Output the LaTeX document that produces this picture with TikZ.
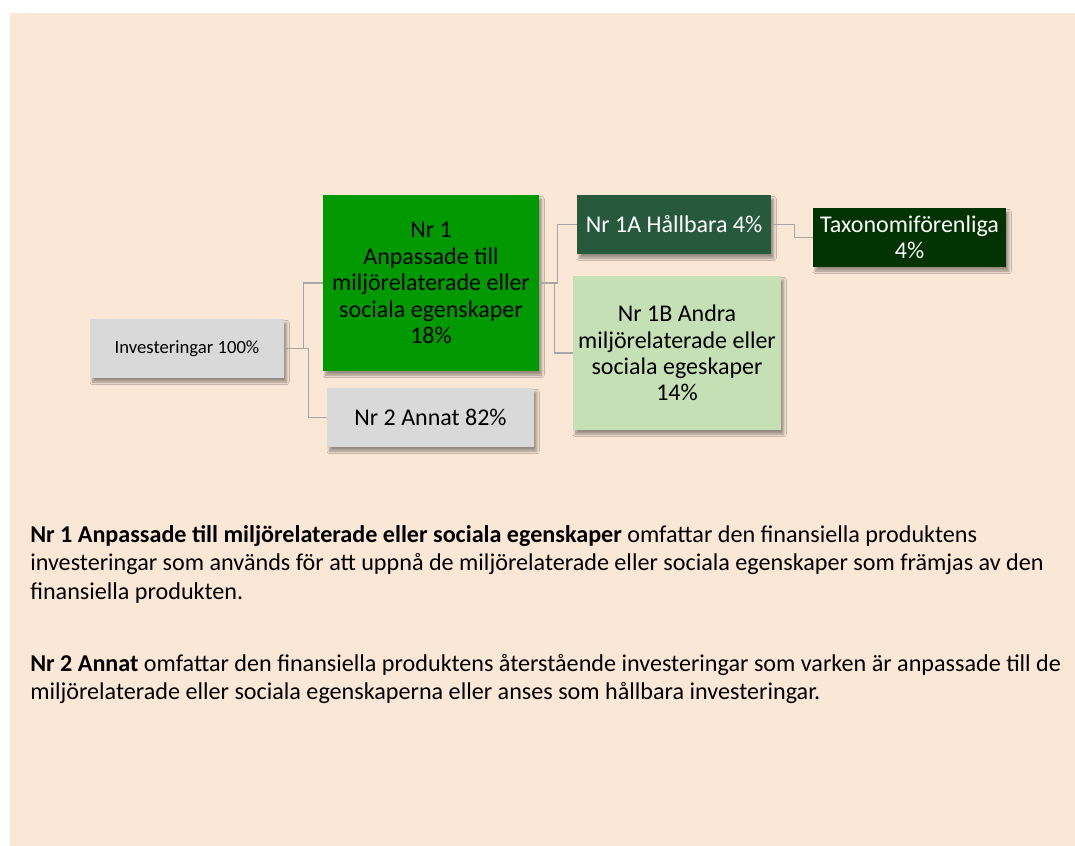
\documentclass[tikz,border=0pt]{standalone}
\usepackage{fontspec}
\setmainfont{Carlito}
\usepackage{tikz}
\usetikzlibrary{positioning,shadows,shadows.blur}
\usepackage{xcolor}
\definecolor{peach}{HTML}{FAE7D6}
\definecolor{boxgray}{HTML}{D9D9D9}
\definecolor{nrgreen}{HTML}{009900}
\definecolor{darkgreen}{HTML}{275A3C}
\definecolor{taxgreen}{HTML}{003300}
\definecolor{lightgreen}{HTML}{C5E0B4}
\definecolor{linegray}{HTML}{A6A6A6}
\tikzstyle{abstract}=[rectangle, draw=none, inner sep=2pt, align=center, text centered,
font=\fontsize{18}{19.8}\selectfont,
blur shadow={shadow xshift=2pt, shadow yshift=-3pt, shadow blur radius=2pt,
shadow blur steps=6, shadow opacity=40}]
\tikzstyle{conn}=[draw=linegray, line width=0.9pt]
\tikzstyle{body}=[anchor=north west, inner sep=0pt, align=left,
font=\fontsize{18.1}{21.3}\selectfont]

\begin{document}
\begin{tikzpicture}[x=0.75pt, y=-0.75pt]
        \useasboundingbox (0,0) rectangle (1075,846);
        \fill[peach] (10,13) rectangle (1075,846);

        \node (inv)[abstract, fill=boxgray, minimum width=194*0.75pt, minimum height=59*0.75pt,
                font=\fontsize{14}{16}\selectfont] at (187,348.5) {Investeringar 100\%};
        \node (nr1)[abstract, fill=nrgreen, minimum width=216*0.75pt, minimum height=176*0.75pt]
                at (431,283)
                {Nr 1\\Anpassade till\\miljörelaterade eller\\sociala egenskaper\\18\%};
        \node (nr2)[abstract, fill=boxgray, minimum width=207*0.75pt, minimum height=59*0.75pt]
                at (430.5,417.5) {Nr 2 Annat 82\%};
        \node (nr1a)[abstract, fill=darkgreen, text=white, minimum width=194*0.75pt,
                minimum height=59*0.75pt] at (674,224.5) {Nr 1A Hållbara 4\%};
        \node (tax)[abstract, fill=taxgreen, text=white, minimum width=193*0.75pt,
                minimum height=59*0.75pt] at (909.5,237.5) {Taxonomiförenliga\\4\%};
        \node (nr1b)[abstract, fill=lightgreen, minimum width=208*0.75pt, minimum height=154*0.75pt]
                at (677,353)
                {Nr 1B Andra\\miljörelaterade eller\\sociala egeskaper\\14\%};

        \draw[conn] (inv.east) -- ++(19,0) |- (nr1.west);
        \draw[conn] (inv.east) -- ++(24,0) |- (nr2.west);
        \draw[conn] (nr1.east) -- ++(18,0) |- (nr1a.west);
        \draw[conn] (nr1.east) -- ++(15,0) |- (nr1b.west);
        \draw[conn] (nr1a.east) -- ++(23,0) |- (tax.west);

        \node (p1)[body] at (30,525)
                {\textbf{Nr 1 Anpassade till miljörelaterade eller sociala egenskaper} omfattar den finansiella produktens\\
                 investeringar som används för att uppnå de miljörelaterade eller sociala egenskaper som främjas av den\\
                 finansiella produkten.};
        \node (p2)[body] at (30,654)
                {\textbf{Nr 2 Annat} omfattar den finansiella produktens återstående investeringar som varken är anpassade till de\\
                 miljörelaterade eller sociala egenskaperna eller anses som hållbara investeringar.};
    \end{tikzpicture}
\end{document}
